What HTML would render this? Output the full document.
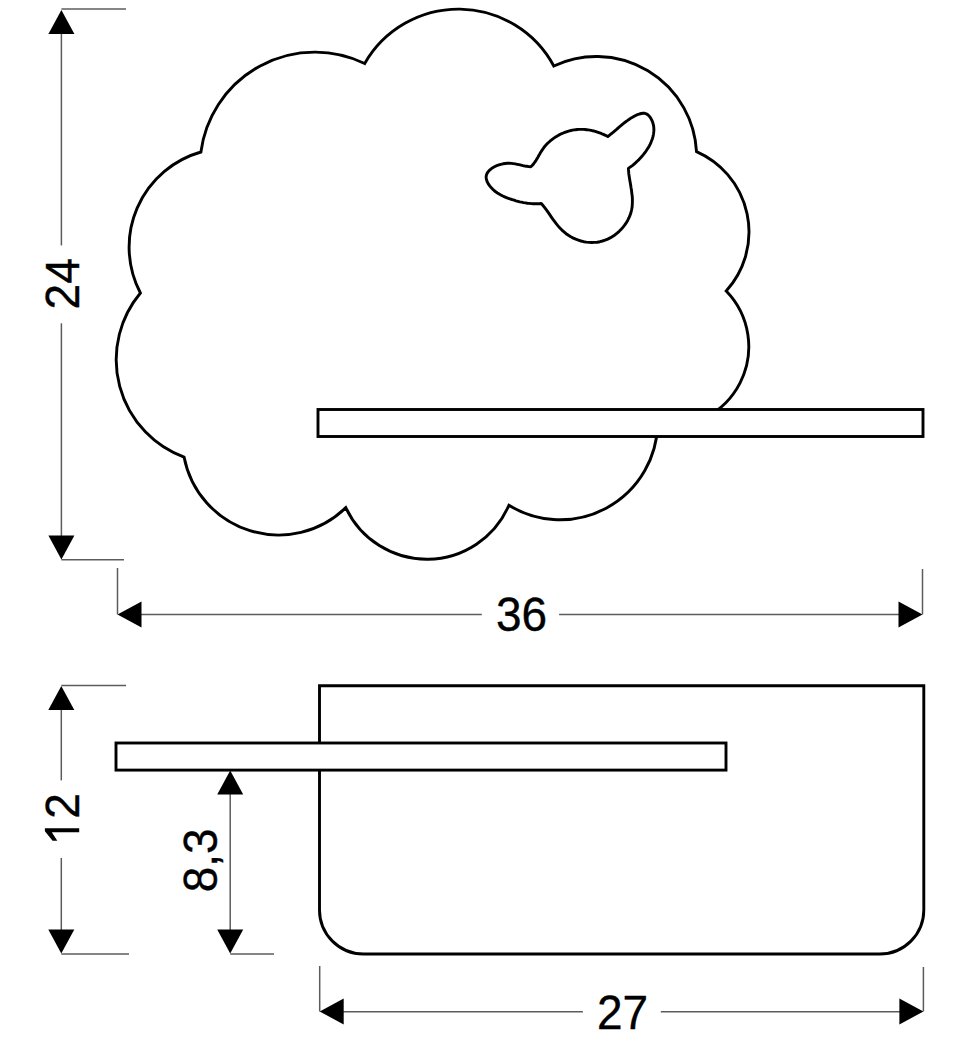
<!DOCTYPE html>
<html><head><meta charset="utf-8"><style>html,body{margin:0;padding:0;background:#fff;}svg{display:block}text{font-family:"Liberation Sans",sans-serif}</style></head>
<body><svg width="970" height="1038" viewBox="0 0 970 1038">
<rect width="970" height="1038" fill="#fff"/>
<line x1="61.4" y1="9.0" x2="126.0" y2="9.0" stroke="#5c5c5c" stroke-width="1.5"/>
<line x1="61.4" y1="559.7" x2="124.0" y2="559.7" stroke="#5c5c5c" stroke-width="1.5"/>
<line x1="61.4" y1="33.0" x2="61.4" y2="245.4" stroke="#5c5c5c" stroke-width="1.5"/>
<line x1="61.4" y1="323.3" x2="61.4" y2="536.0" stroke="#5c5c5c" stroke-width="1.5"/>
<polygon points="61.4,10.0 48.4,34.0 74.4,34.0" fill="#000"/>
<polygon points="61.4,559.4 48.4,535.4 74.4,535.4" fill="#000"/>
<line x1="117.5" y1="568.0" x2="117.5" y2="614.5" stroke="#5c5c5c" stroke-width="1.5"/>
<line x1="922.5" y1="569.0" x2="922.5" y2="614.5" stroke="#5c5c5c" stroke-width="1.5"/>
<line x1="140.0" y1="614.5" x2="481.8" y2="614.5" stroke="#5c5c5c" stroke-width="1.5"/>
<line x1="559.1" y1="614.5" x2="900.0" y2="614.5" stroke="#5c5c5c" stroke-width="1.5"/>
<polygon points="117.5,614.5 141.5,601.5 141.5,627.5" fill="#000"/>
<polygon points="922.5,614.5 898.5,601.5 898.5,627.5" fill="#000"/>
<path d="M140.4 293.0 A98.9 98.9 0 0 1 200.9 152.0 A114.9 114.9 0 0 1 364.7 63.5 A108.2 108.2 0 0 1 553.8 66.0 A100.3 100.3 0 0 1 696.5 151.6 A87.8 87.8 0 0 1 726.2 291.0 A79.8 79.8 0 0 1 657.6 425.6 A97.6 97.6 0 0 1 508.9 505.3 A89.4 89.4 0 0 1 345.8 507.6 A96.2 96.2 0 0 1 184.1 457.2 A104.0 104.0 0 0 1 140.4 293.0Z" fill="#fff" stroke="#000" stroke-width="2.9" stroke-linejoin="miter"/>
<path d="M530.8 166.8 L531.9 165.7 L533.0 164.6 L533.9 163.4 L534.8 162.2 L535.7 160.9 L536.5 159.6 L537.3 158.2 L538.1 156.9 L538.8 155.5 L539.6 154.2 L540.4 152.8 L541.2 151.5 L542.1 150.1 L543.0 148.8 L543.9 147.5 L544.9 146.3 L545.9 145.1 L547.0 143.9 L548.2 142.8 L549.4 141.7 L550.6 140.6 L551.9 139.6 L553.2 138.6 L554.6 137.6 L556.0 136.7 L557.4 135.9 L558.8 135.1 L560.3 134.3 L561.8 133.6 L563.3 133.0 L564.8 132.4 L566.3 131.8 L567.9 131.3 L569.4 130.9 L571.0 130.5 L572.5 130.2 L574.1 129.9 L575.7 129.7 L577.2 129.5 L578.8 129.4 L580.4 129.4 L581.9 129.4 L583.5 129.4 L585.1 129.5 L586.6 129.7 L588.2 129.9 L589.7 130.1 L591.3 130.4 L592.8 130.8 L594.4 131.1 L595.9 131.6 L597.4 132.1 L598.9 132.6 L600.4 133.1 L601.9 133.8 L603.4 134.4 L604.9 135.1 L606.4 135.8 L607.8 136.6 L609.3 135.4 L610.8 134.2 L612.3 133.0 L613.7 131.8 L615.1 130.6 L616.6 129.4 L618.0 128.1 L619.4 126.9 L620.9 125.7 L622.4 124.4 L623.9 123.2 L625.4 122.0 L627.0 120.9 L628.6 119.7 L630.2 118.6 L632.0 117.6 L633.8 116.5 L635.6 115.5 L637.5 114.7 L639.4 114.0 L641.2 113.5 L643.0 113.2 L644.7 113.3 L646.3 113.8 L647.7 114.7 L649.0 115.8 L650.1 117.2 L651.1 118.8 L652.0 120.6 L652.7 122.3 L653.2 124.1 L653.6 125.9 L653.8 127.7 L653.9 129.6 L653.8 131.4 L653.6 133.2 L653.3 135.1 L652.9 136.9 L652.4 138.7 L651.7 140.5 L651.0 142.3 L650.2 144.1 L649.3 145.9 L648.3 147.6 L647.2 149.3 L646.1 151.0 L644.9 152.6 L643.7 154.2 L642.4 155.8 L641.1 157.3 L639.7 158.8 L638.4 160.2 L636.9 161.5 L635.5 162.9 L634.1 164.1 L632.7 165.3 L631.2 166.4 L629.8 167.4 L628.4 168.4 L628.6 171.0 L628.8 173.7 L629.2 176.4 L629.6 179.1 L630.1 181.9 L630.6 184.7 L631.0 187.5 L631.5 190.3 L631.8 193.1 L632.2 196.0 L632.4 198.8 L632.4 201.5 L632.3 204.3 L632.1 207.1 L631.6 209.8 L631.0 212.5 L630.1 215.1 L629.0 217.7 L627.8 220.2 L626.4 222.6 L624.8 224.9 L623.1 227.1 L621.2 229.3 L619.2 231.3 L617.1 233.1 L614.9 234.9 L612.5 236.4 L610.1 237.9 L607.7 239.1 L605.1 240.2 L602.5 241.0 L599.9 241.7 L597.2 242.2 L594.5 242.4 L591.8 242.5 L589.1 242.4 L586.3 242.1 L583.6 241.7 L581.0 241.0 L578.4 240.2 L575.8 239.2 L573.3 238.1 L570.8 236.8 L568.4 235.3 L566.1 233.7 L564.0 231.9 L561.9 230.1 L559.9 228.0 L558.0 225.9 L556.2 223.7 L554.5 221.4 L552.8 219.1 L551.2 216.8 L549.6 214.4 L548.0 212.1 L546.4 209.9 L544.7 207.6 L543.0 205.5 L541.3 203.5 L539.2 203.7 L537.2 203.7 L535.2 203.8 L533.2 203.7 L531.3 203.6 L529.3 203.4 L527.4 203.2 L525.5 202.9 L523.5 202.6 L521.6 202.2 L519.8 201.8 L517.9 201.3 L516.0 200.8 L514.1 200.2 L512.2 199.6 L510.3 199.0 L508.4 198.3 L506.5 197.6 L504.6 196.8 L502.8 196.0 L501.0 195.1 L499.2 194.1 L497.4 193.0 L495.7 191.8 L494.1 190.5 L492.6 189.1 L491.1 187.5 L489.7 185.9 L488.5 184.2 L487.5 182.4 L486.8 180.6 L486.3 178.9 L486.1 177.2 L486.3 175.5 L486.8 174.0 L487.6 172.5 L488.7 171.1 L490.0 169.8 L491.4 168.6 L493.1 167.5 L494.9 166.5 L496.8 165.6 L498.9 164.9 L500.9 164.3 L503.0 163.8 L505.2 163.5 L507.3 163.3 L509.3 163.3 L511.4 163.4 L513.3 163.6 L515.3 163.9 L517.2 164.3 L519.1 164.7 L521.0 165.1 L523.0 165.6 L524.9 166.0 L526.8 166.3 L528.8 166.6 L530.8 166.8Z" fill="none" stroke="#000" stroke-width="2.9" stroke-linejoin="round"/>
<rect x="318" y="409.5" width="605" height="27" fill="#fff" stroke="#000" stroke-width="2.9"/>
<path d="M319.5 685.8 H923.8 V910 A44 44 0 0 1 879.8 954 H363.5 A44 44 0 0 1 319.5 910 Z" fill="#fff" stroke="#000" stroke-width="2.9"/>
<rect x="116" y="743" width="610" height="27.1" fill="#fff" stroke="#000" stroke-width="2.9"/>
<line x1="61.3" y1="685.5" x2="126.0" y2="685.5" stroke="#5c5c5c" stroke-width="1.5"/>
<line x1="61.3" y1="954.0" x2="129.0" y2="954.0" stroke="#5c5c5c" stroke-width="1.5"/>
<line x1="61.3" y1="709.0" x2="61.3" y2="780.4" stroke="#5c5c5c" stroke-width="1.5"/>
<line x1="61.3" y1="858.0" x2="61.3" y2="931.0" stroke="#5c5c5c" stroke-width="1.5"/>
<polygon points="61.3,686.0 48.3,710.0 74.3,710.0" fill="#000"/>
<polygon points="61.3,953.6 48.3,929.6 74.3,929.6" fill="#000"/>
<line x1="230.2" y1="954.0" x2="274.0" y2="954.0" stroke="#5c5c5c" stroke-width="1.5"/>
<line x1="230.2" y1="793.0" x2="230.2" y2="931.0" stroke="#5c5c5c" stroke-width="1.5"/>
<polygon points="230.2,770.6 217.2,794.6 243.2,794.6" fill="#000"/>
<polygon points="230.2,953.6 217.2,929.6 243.2,929.6" fill="#000"/>
<line x1="319.7" y1="966.0" x2="319.7" y2="1011.5" stroke="#5c5c5c" stroke-width="1.5"/>
<line x1="923.4" y1="967.0" x2="923.4" y2="1011.5" stroke="#5c5c5c" stroke-width="1.5"/>
<line x1="342.0" y1="1011.7" x2="582.9" y2="1011.7" stroke="#5c5c5c" stroke-width="1.5"/>
<line x1="660.8" y1="1011.7" x2="900.0" y2="1011.7" stroke="#5c5c5c" stroke-width="1.5"/>
<polygon points="319.7,1011.5 343.7,998.5 343.7,1024.5" fill="#000"/>
<polygon points="923.4,1011.5 899.4,998.5 899.4,1024.5" fill="#000"/>
<text x="0" y="0" transform="translate(521.5,631.3) scale(1,1.035)" text-anchor="middle" font-size="46" fill="#000" stroke="#000" stroke-width="0.35">36</text>
<text x="0" y="0" transform="translate(622.6,1029.1) scale(1,1.035)" text-anchor="middle" font-size="46" fill="#000" stroke="#000" stroke-width="0.35">27</text>
<text x="0" y="0" transform="translate(78.8,283.8) rotate(-90) scale(1,1.035)" text-anchor="middle" font-size="46" fill="#000" stroke="#000" stroke-width="0.35">24</text>
<text x="0" y="0" transform="translate(78.8,818.7) rotate(-90) scale(1,1.035)" text-anchor="start" font-size="46" fill="#000" stroke="#000" stroke-width="0.35">2</text>
<polygon points="44.9,828.2 79.2,828.2 79.2,832.2 51.8,832.2 57.3,840.8 52.6,840.8 44.9,831.2" fill="#000"/>
<text x="0" y="0" transform="translate(216.6,860.4) rotate(-90) scale(1,1.035)" text-anchor="middle" font-size="46" fill="#000" stroke="#000" stroke-width="0.35">8,3</text>
</svg></body></html>
